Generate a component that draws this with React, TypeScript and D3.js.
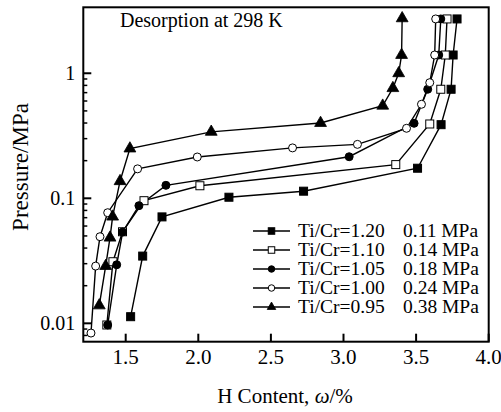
import React from 'react';
import * as d3 from 'd3';

// H content (wt%) and desorption pressure (MPa)
const hContent120 = [1.534, 1.617, 1.75, 2.211, 2.725, 3.51, 3.672, 3.741, 3.755, 3.782];
const pressure120 = [0.0113, 0.0345, 0.071, 0.102, 0.114, 0.174, 0.388, 0.745, 1.4, 2.72];

const hContent110 = [1.37, 1.412, 1.478, 1.626, 2.011, 3.36, 3.594, 3.67, 3.701, 3.713];
const pressure110 = [0.0097, 0.0311, 0.054, 0.0957, 0.126, 0.186, 0.393, 0.745, 1.4, 2.72];

const hContent105 = [1.376, 1.438, 1.479, 1.591, 1.777, 3.039, 3.486, 3.58, 3.656, 3.67];
const pressure105 = [0.0097, 0.0294, 0.0537, 0.0873, 0.127, 0.215, 0.398, 0.745, 1.4, 2.72];

const hContent100 = [1.261, 1.293, 1.323, 1.376, 1.582, 1.993, 2.649, 3.096, 3.434, 3.537, 3.594, 3.628, 3.635];
const pressure100 = [0.00836, 0.0287, 0.0493, 0.0767, 0.172, 0.214, 0.253, 0.27, 0.363, 0.565, 0.841, 1.4, 2.72];

const hContent095 = [1.318, 1.362, 1.392, 1.41, 1.461, 1.529, 2.089, 2.842, 3.27, 3.34, 3.38, 3.4, 3.404];
const pressure095 = [0.0139, 0.0287, 0.0484, 0.0713, 0.137, 0.25, 0.34, 0.4, 0.55, 0.76, 1.0, 1.4, 2.75];

const seriesNames = ['Ti/Cr=1.20', 'Ti/Cr=1.10', 'Ti/Cr=1.05', 'Ti/Cr=1.00', 'Ti/Cr=0.95'];
const plateauLabels = ['0.11 MPa', '0.14 MPa', '0.18 MPa', '0.24 MPa', '0.38 MPa'];
const markerKinds = ['square', 'squareOpen', 'circle', 'circleOpen', 'triangle'];

const xTicks = [1.5, 2.0, 2.5, 3.0, 3.5, 4.0];
const yTicks = [0.01, 0.1, 1];
const yMinorTicks = [0.008, 0.009, 0.02, 0.03, 0.04, 0.05, 0.06, 0.07, 0.08, 0.09,
  0.2, 0.3, 0.4, 0.5, 0.6, 0.7, 0.8, 0.9];

const W = 501;
const H = 412;
const margin = { left: 83.3, right: 501 - 488.7, top: 7.3, bottom: 412 - 341.7 };
const serif = { fontFamily: "'Liberation Serif', 'DejaVu Serif', serif" };

const Marker = ({ kind, x, y, s }: { kind: string; x: number; y: number; s: number }) => {
  const open = kind.endsWith('Open');
  const fill = open ? '#fff' : '#000';
  if (kind.startsWith('square')) {
    return <rect x={x - s / 2} y={y - s / 2} width={s} height={s} fill={fill} stroke="#000" strokeWidth={1} />;
  }
  if (kind.startsWith('circle')) {
    return <circle cx={x} cy={y} r={s / 2} fill={fill} stroke="#000" strokeWidth={1} />;
  }
  const t = d3.symbol().type(d3.symbolTriangle).size(s * s * 0.75)();
  return <path d={t || ''} transform={`translate(${x},${y})`} fill="#000" stroke="#000" strokeWidth={0.8} />;
};

export default function App() {
  const x = d3.scaleLinear().domain([1.208, 4.0]).range([margin.left, W - margin.right]);
  const y = d3.scaleLog().domain([0.00713, 3.37]).range([H - margin.bottom, margin.top]);

  const series = [
    { h: hContent120, p: pressure120 },
    { h: hContent110, p: pressure110 },
    { h: hContent105, p: pressure105 },
    { h: hContent100, p: pressure100 },
    { h: hContent095, p: pressure095 },
  ];

  const line = d3.line<[number, number]>().x(d => x(d[0])).y(d => y(d[1]));

  const x0 = margin.left;
  const x1 = W - margin.right;
  const y0 = margin.top;
  const y1 = H - margin.bottom;

  return (
    <svg width={W} height={H} style={{ position: 'absolute', left: 0, top: 0, background: '#fff', ...serif }}>
      <rect x={0} y={0} width={W} height={H} fill="#fff" />
      {/* curves */}
      {series.map((s, i) => (
        <path key={'l' + i} d={line(s.h.map((v, j) => [v, s.p[j]] as [number, number])) || ''}
          fill="none" stroke="#000" strokeWidth={1.4} />
      ))}
      {series.map((s, i) => s.h.map((v, j) => (
        <Marker key={`m${i}-${j}`} kind={markerKinds[i]} x={x(v)} y={y(s.p[j])} s={i === 4 ? 9 : 8} />
      )))}

      {/* frame */}
      <rect x={x0} y={y0} width={x1 - x0} height={y1 - y0} fill="none" stroke="#000" strokeWidth={2} />

      {/* x ticks */}
      {xTicks.map(t => (
        <g key={'xt' + t}>
          <line x1={x(t)} x2={x(t)} y1={y1} y2={y1 - 8} stroke="#000" strokeWidth={2} />
          <text x={x(t)} y={364} textAnchor="middle" style={serif} fontSize={21}>{t.toFixed(1)}</text>
        </g>
      ))}
      {/* y ticks */}
      {yTicks.map(t => (
        <g key={'yt' + t}>
          <line x1={x0} x2={x0 + 8} y1={y(t)} y2={y(t)} stroke="#000" strokeWidth={2} />
          <text x={x0 - 8} y={y(t) + 7} textAnchor="end" style={serif} fontSize={20}>{String(t)}</text>
        </g>
      ))}
      {yMinorTicks.map(t => (
        <line key={'ym' + t} x1={x0} x2={x0 + 4} y1={y(t)} y2={y(t)} stroke="#000" strokeWidth={1.5} />
      ))}

      {/* axis titles */}
      <text x={285} y={403} textAnchor="middle" style={serif} fontSize={21}>
        H Content, <tspan fontStyle="italic">ω</tspan>/%
      </text>
      <text transform={`translate(27.5,167) rotate(-90)`} textAnchor="middle" style={serif} fontSize={23}>
        Pressure/MPa
      </text>

      <text x={120} y={27} style={serif} fontSize={20}>Desorption at 298 K</text>

      {/* legend */}
      {seriesNames.map((name, i) => {
        const ly = 231 + i * 19;
        return (
          <g key={'lg' + i}>
            <line x1={253} x2={290} y1={ly} y2={ly} stroke="#000" strokeWidth={1.6} />
            <Marker kind={markerKinds[i]} x={271.5} y={ly} s={6.5} />
            <text x={298} y={ly + 6} style={serif} fontSize={19.5}>{name}</text>
            <text x={403} y={ly + 6} style={serif} fontSize={19.5}>{plateauLabels[i]}</text>
          </g>
        );
      })}
    </svg>
  );
}
